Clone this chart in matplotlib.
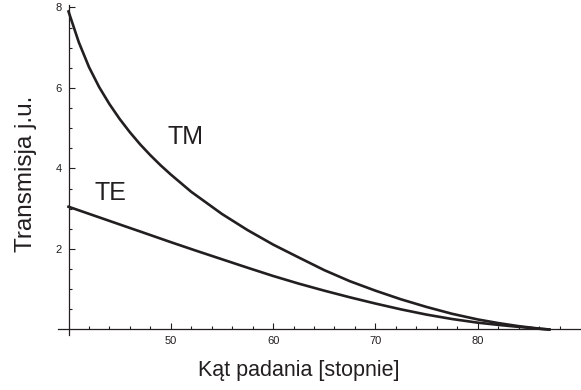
import matplotlib
matplotlib.use("Agg")
import matplotlib.pyplot as plt
from matplotlib.ticker import FixedLocator

plt.rcParams["font.family"] = ["Liberation Sans", "DejaVu Sans"]

INK = "#231f20"

# angle of incidence [deg] and transmission (arb. units)
angle_tm = [40, 41, 42, 43, 44, 45, 46, 47, 48, 49, 50, 52, 55, 57.5, 60,
            62.5, 65, 67.5, 70, 72.5, 75, 77.5, 80, 82, 84, 86, 87]
tm = [7.9, 7.14, 6.52, 6.02, 5.6, 5.23, 4.9, 4.6, 4.33, 4.08, 3.85, 3.42,
      2.87, 2.47, 2.11, 1.79, 1.475, 1.2, 0.965, 0.75, 0.56, 0.39, 0.25,
      0.16, 0.083, 0.023, 0.0]

angle_te = [40, 42, 45, 47, 50, 52.5, 55, 57.5, 60, 62.5, 65, 67.5, 70,
            72.5, 75, 77.5, 80, 82, 84, 86, 87]
te = [3.05, 2.874, 2.61, 2.435, 2.17, 1.955, 1.745, 1.535, 1.33, 1.14,
      0.965, 0.8, 0.645, 0.5, 0.37, 0.26, 0.17, 0.115, 0.065, 0.018, 0.0]

fig = plt.figure(figsize=(5.81, 3.90), dpi=100)
ax = fig.add_axes([0.0998, 0.141, 0.9002, 0.846])

ax.plot(angle_tm, tm, color=INK, lw=1.9, solid_joinstyle="round")
ax.plot(angle_te, te, color=INK, lw=1.9, solid_joinstyle="round")

ax.set_xlim(38.97, 90.1)
ax.set_ylim(-0.137, 8.06)

# axes crossing at (40, 0)
for s in ("top", "right"):
    ax.spines[s].set_visible(False)
ax.spines["left"].set_position(("data", 40))
ax.spines["bottom"].set_position(("data", 0))
for s in ("left", "bottom"):
    ax.spines[s].set_linewidth(0.9)
    ax.spines[s].set_color(INK)

ax.xaxis.set_major_locator(FixedLocator([50, 60, 70, 80]))
ax.xaxis.set_minor_locator(FixedLocator([x for x in range(42, 90, 2) if x % 10]))
ax.yaxis.set_major_locator(FixedLocator([2, 4, 6, 8]))
ax.yaxis.set_minor_locator(FixedLocator([y * 0.5 for y in range(1, 16) if y % 4]))

ax.tick_params(which="both", direction="in", color=INK, width=0.8)
ax.tick_params(which="major", length=4, labelsize=8, labelcolor=INK)
ax.tick_params(which="minor", length=2.2)
ax.tick_params(axis="x", which="major", pad=5)
ax.tick_params(axis="y", which="major", pad=5)

ax.text(44.06, 3.40, "TE", fontsize=18, color=INK, ha="center", va="center")
ax.text(51.47, 4.77, "TM", fontsize=18, color=INK, ha="center", va="center")

ax.set_xlabel("Kąt padania [stopnie]", fontsize=15.5, color=INK)
ax.set_ylabel("Transmisja j.u.", fontsize=17.5, color=INK)
ax.xaxis.set_label_coords(0.46, -0.075)
ax.yaxis.set_label_coords(-0.04, 0.49)

fig.savefig("out.png", dpi=100)
